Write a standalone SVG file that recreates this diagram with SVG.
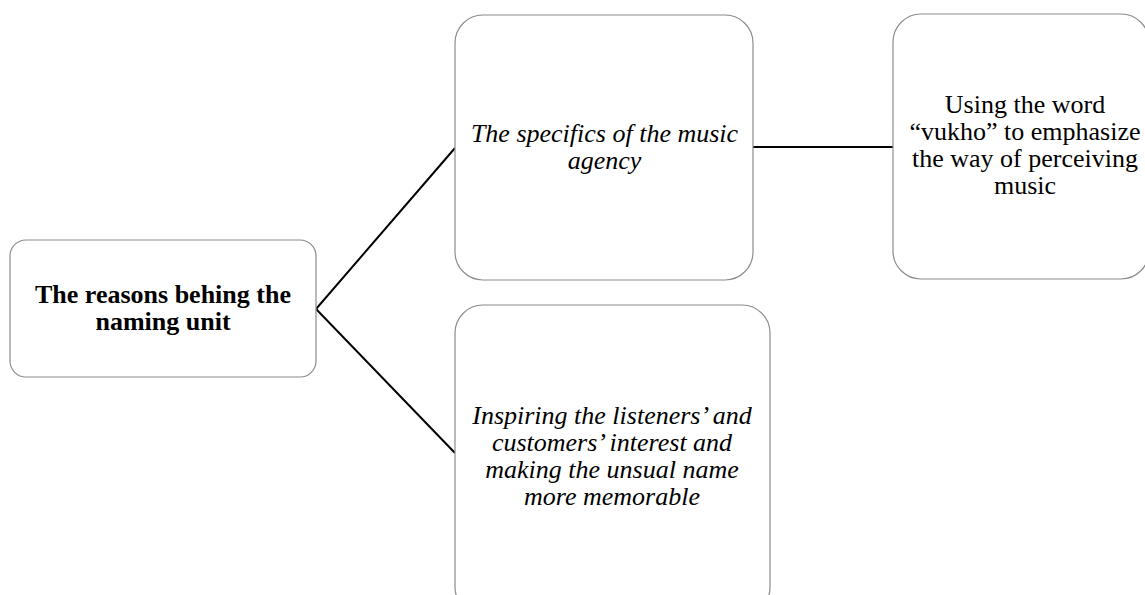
<svg xmlns="http://www.w3.org/2000/svg" width="1145" height="595" viewBox="0 0 1145 595">
  <style>
    .box { fill: #ffffff; stroke: #8c8c8c; stroke-width: 1.2; }
    .lbl { font-size: 26px; fill: #000; text-anchor: middle; }
    .b { font-weight: bold; }
    .i { font-style: italic; }
    .conn { stroke: #000; stroke-width: 2; fill: none; }
  </style>
  <rect width="1145" height="595" fill="#ffffff"/>

  <!-- connectors -->
  <g id="connectors">
    <polyline class="conn" points="455,148 316,309 455,453"/>
    <line class="conn" x1="753" y1="147" x2="893" y2="147"/>
  </g>

  <g font-family="Liberation Serif, serif">
    <!-- root -->
    <g id="node-root">
      <rect class="box" x="10" y="240" width="306" height="137" rx="16"/>
      <text class="lbl b" x="163" y="302.5">The reasons behing the</text>
      <text class="lbl b" x="163" y="329.5">naming unit</text>
    </g>

    <g id="node-specifics">
      <rect class="box" x="455" y="15" width="298" height="265" rx="28"/>
      <text class="lbl i" x="604.5" y="141.5">The specifics of the music</text>
      <text class="lbl i" x="604.5" y="168.5">agency</text>
    </g>

    <g id="node-vukho">
      <rect class="box" x="893" y="14" width="256" height="265" rx="28"/>
      <text class="lbl" x="1025" y="112.5">Using the word</text>
      <text class="lbl" x="1025" y="139.5">“vukho” to emphasize</text>
      <text class="lbl" x="1025" y="166.5">the way of perceiving</text>
      <text class="lbl" x="1025" y="193.5">music</text>
    </g>

    <g id="node-interest">
      <rect class="box" x="455" y="305" width="315" height="310" rx="28"/>
      <text class="lbl i" x="612" y="423.5">Inspiring the listeners’ and</text>
      <text class="lbl i" x="612" y="450.5">customers’ interest and</text>
      <text class="lbl i" x="612" y="477.5">making the unsual name</text>
      <text class="lbl i" x="612" y="504.5">more memorable</text>
    </g>
  </g>
</svg>
